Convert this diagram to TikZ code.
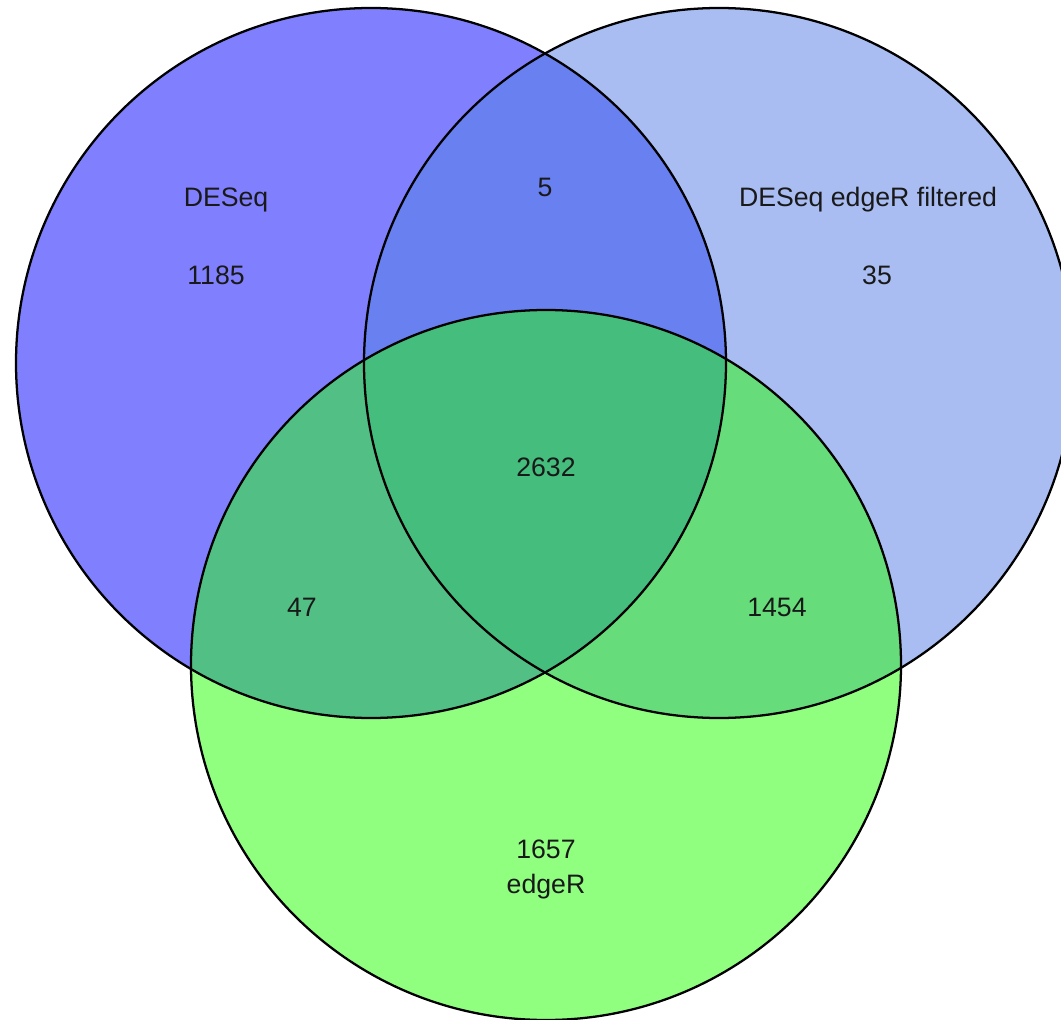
\documentclass[tikz,border=0pt]{standalone}
\usepackage{fontspec}
\setmainfont{Liberation Sans}
\usepackage{xcolor}
\definecolor{deseqcol}{RGB}{128,128,255}
\definecolor{filtcol}{RGB}{169,189,242}
\definecolor{edgercol}{RGB}{144,255,128}
\definecolor{deseqfiltcol}{RGB}{105,128,240}
\definecolor{deseqedgercol}{RGB}{82,191,133}
\definecolor{filtedgercol}{RGB}{102,221,122}
\definecolor{allcol}{RGB}{69,189,124}

\begin{document}
\begin{tikzpicture}[x=0.75pt,y=-0.75pt,every node/.style={font=\fontsize{20}{24}\selectfont,text=black!90}]
        \useasboundingbox (0,0) rectangle (1061,1020);
        \def\deseqset{(371,363) circle (355)}
        \def\filtset{(719,363) circle (355)}
        \def\edgerset{(546,665) circle (355)}
        % single sets
        \fill[deseqcol] \deseqset;
        \fill[filtcol] \filtset;
        \fill[edgercol] \edgerset;
        % overlaps
        \begin{scope}
            \clip \deseqset;
            \fill[deseqfiltcol] \filtset;
        \end{scope}
        \begin{scope}
            \clip \deseqset;
            \fill[deseqedgercol] \edgerset;
        \end{scope}
        \begin{scope}
            \clip \filtset;
            \fill[filtedgercol] \edgerset;
        \end{scope}
        \begin{scope}
            \clip \deseqset;
            \clip \filtset;
            \fill[allcol] \edgerset;
        \end{scope}
        \foreach \s in {\deseqset,\filtset,\edgerset}
            \draw[line width=1.7pt] \s;
        % labels
        \node (deseqname) at (226,200) {DESeq};
        \node (deseqn) at (216,275) {1185};
        \node (filtname) at (868,200) {DESeq edgeR filtered};
        \node (filtn) at (877,275) {35};
        \node (deseqfiltn) at (545,187) {5};
        \node (alln) at (546,467) {2632};
        \node (deseqedgern) at (302,607) {47};
        \node (filtedgern) at (777,607) {1454};
        \node (edgern) at (546,849) {1657};
        \node (edgername) at (546,887) {edgeR};
    \end{tikzpicture}
\end{document}
